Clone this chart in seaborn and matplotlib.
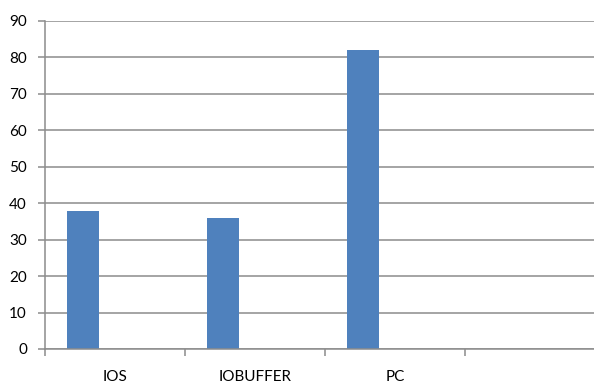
import matplotlib
matplotlib.use("Agg")
import matplotlib.pyplot as plt
import seaborn as sns
import pandas as pd

categories = ["IOS", "IOBUFFER", "PC", ""]
series_names = ["Series1", "Series2", "Series3"]
series1 = [38, 36, 82]
series2 = [0, 0, 0]
series3 = [0, 0, 0]

df = pd.DataFrame({
    "category": categories[:3] * 3,
    "series": [s for s in series_names for _ in range(3)],
    "value": series1 + series2 + series3,
})

sns.set_theme(style="white")
plt.rcParams["font.family"] = ["Lato", "DejaVu Sans"]

fig = plt.figure(figsize=(5.94, 3.90), dpi=100)
ax = fig.add_axes([45 / 594, 41 / 390, 549 / 594, 328 / 390])

sns.barplot(data=df, x="category", y="value", hue="series",
            order=categories, hue_order=series_names,
            palette=["#4F81BD", "#C0504D", "#9BBB59"],
            width=0.686, saturation=1, legend=False, linewidth=0, ax=ax)

grid_c = "#8c8c8c"
ax.set_ylim(0, 90)
ax.set_yticks(range(0, 91, 10))
ax.yaxis.grid(True, color=grid_c, linewidth=1.1)
ax.set_axisbelow(True)
ax.set_xlim(-0.5, -0.5 + 549 / 140)

for s in ["top", "right"]:
    ax.spines[s].set_visible(False)
for s in ["left", "bottom"]:
    ax.spines[s].set_color(grid_c)
    ax.spines[s].set_linewidth(1.1)

# Category labels centred in slots, tick marks on the slot boundaries
ax.set_xticks([0, 1, 2, 3])
ax.set_xticklabels(categories)
ax.tick_params(axis="x", length=0, pad=15, labelsize=11, colors="#000000")
ax.set_xticks([-0.5, 0.5, 1.5, 2.5], minor=True)
ax.tick_params(axis="x", which="minor", length=5, width=1.1, color=grid_c, direction="out", bottom=True)
ax.tick_params(axis="y", length=5, width=1.1, color=grid_c, direction="out", left=True,
               pad=8, labelsize=11, labelcolor="#000000")

ax.set_xlabel("")
ax.set_ylabel("")

fig.savefig("out.png", dpi=100)
